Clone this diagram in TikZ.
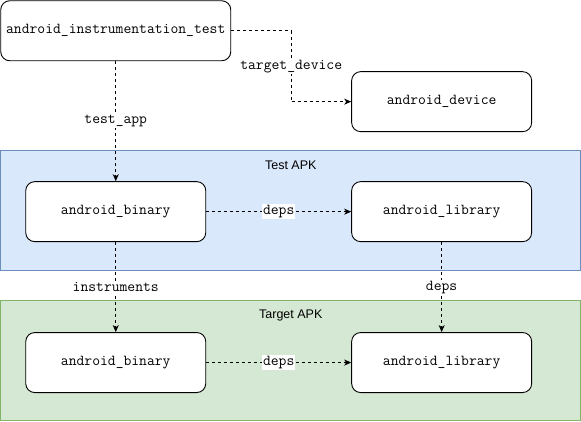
\documentclass[tikz,border=0pt]{standalone}
\usepackage{fontspec}
\setsansfont{Liberation Sans}
\usetikzlibrary{arrows.meta,positioning,backgrounds}
\definecolor{testfill}{HTML}{DAE8FC}
\definecolor{testline}{HTML}{6C8EBF}
\definecolor{targetfill}{HTML}{D5E8D4}
\definecolor{targetline}{HTML}{82B366}
\begin{document}
\begin{tikzpicture}[x=1pt,y=-1pt,
      rulebox/.style={
         rectangle,
         rounded corners=9pt,
         draw=black,
         fill=white,
         line width=0.9pt,
         inner sep=0pt,
         minimum width=180pt,
         minimum height=60pt,
         font=\ttfamily\fontsize{15.2}{17}\selectfont},
      apkgroup/.style={
         rectangle,
         line width=0.9pt,
         inner sep=0pt,
         minimum width=580pt,
         minimum height=120pt,
         anchor=north west},
      grouplabel/.style={font=\sffamily\fontsize{12.5}{15}\selectfont},
      edgelabel/.style={fill=white,inner sep=1pt,font=\ttfamily\fontsize{15.2}{17}\selectfont},
      myarrow/.style={dash pattern=on 3pt off 3pt,line width=0.9pt,
         -{Stealth[length=7pt,width=6pt,inset=2pt]}},
      node distance=120pt and 145pt
      ]
      \useasboundingbox (0,0) rectangle (581,421);

      \node[rulebox, minimum width=230pt, anchor=north west] (instr) at (0.3,0.3) {android\_instrumentation\_test};
      \node[rulebox, below right=10pt and 120pt of instr] (device) {android\_device};
      \node[rulebox, below=of instr] (tbin) {android\_binary};
      \node[rulebox, right=of tbin] (tlib) {android\_library};
      \node[rulebox, below=90pt of tbin] (gbin) {android\_binary};
      \node[rulebox, right=of gbin] (glib) {android\_library};

      % apk groups behind the rules
      \begin{scope}[on background layer]
      \node[apkgroup, draw=testline, fill=testfill] (testapk) at (0.3,150.3) {};
      \node[apkgroup, draw=targetline, fill=targetfill] (targetapk) at (0.3,300.3) {};
      \end{scope}
      \node[grouplabel] (testlbl) at ([yshift=-15pt]testapk.north) {Test APK};
      \node[grouplabel] (targetlbl) at ([yshift=-15pt]targetapk.north) {Target APK};

    \foreach \i/\j/\txt in {% start node/end node/text
      instr/tbin/test\_app,
      tbin/tlib/deps,
      tbin/gbin/instruments,
      tlib/glib/deps,
      gbin/glib/deps}
       \draw [myarrow] (\i) -- node[edgelabel] {\txt} (\j);

     % elbow connector to the device
     \draw [myarrow] (instr.east) -- ++(60pt,0) |- node[edgelabel,pos=0.25] {target\_device} (device.west);
    \end{tikzpicture}
\end{document}
